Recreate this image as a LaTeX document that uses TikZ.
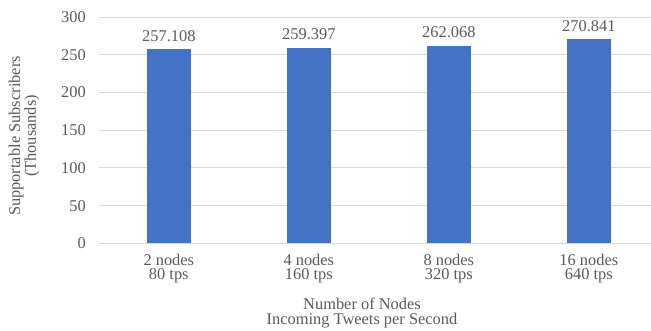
\documentclass[tikz,border=0pt]{standalone}
\usepackage{fontspec}
\setmainfont{Liberation Serif}
\definecolor{barblue}{HTML}{4472C4}
\definecolor{gridgray}{HTML}{D9D9D9}
\definecolor{textgray}{HTML}{595959}
\begin{document}
\begin{tikzpicture}[x=1pt,y=1pt,
  lbl/.style={text=textgray,inner sep=0pt,font=\fontsize{16.4}{14.8}\selectfont},
  gridline/.style={draw=gridgray,line width=1pt},
  bar/.style={fill=barblue,draw=none}]
\useasboundingbox (0,0) rectangle (651,330);
% plot area: value 0 at y=86.7, 0.7543pt per unit
\begin{scope}[shift={(0,86.7)},y=0.7543pt]
  \foreach \v in {0,50,...,300}{
    \draw[gridline] (98.8,\v) -- (651,\v);
    \node[lbl,anchor=base east] (tick\v) at (86,\v) [yshift=-5.5pt] {\v};
  }
  \foreach \i/\val/\lab in {0/257.108/{2 nodes\\80 tps},
                           1/259.397/{4 nodes\\160 tps},
                           2/262.068/{8 nodes\\320 tps},
                           3/270.841/{16 nodes\\640 tps}}{
    \pgfmathsetmacro{\cx}{168.8+140*\i}
    \fill[bar] (\cx-22,0) rectangle (\cx+22,\val);
    \node[lbl,anchor=base] (val\i) at (\cx,\val) [yshift=8pt] {\val};
    \node[lbl,align=center,anchor=north] (cat\i) at (\cx,0) [yshift=-10.2pt] {\lab};
  }
\end{scope}
\node[lbl,align=center,anchor=north] (xtitle) at (362,31.8) {Number of Nodes\\Incoming Tweets per Second};
\node[lbl,align=center,rotate=90] (ytitle) at (24,194) {Supportable Subscribers\\(Thousands)};
\end{tikzpicture}
\end{document}
